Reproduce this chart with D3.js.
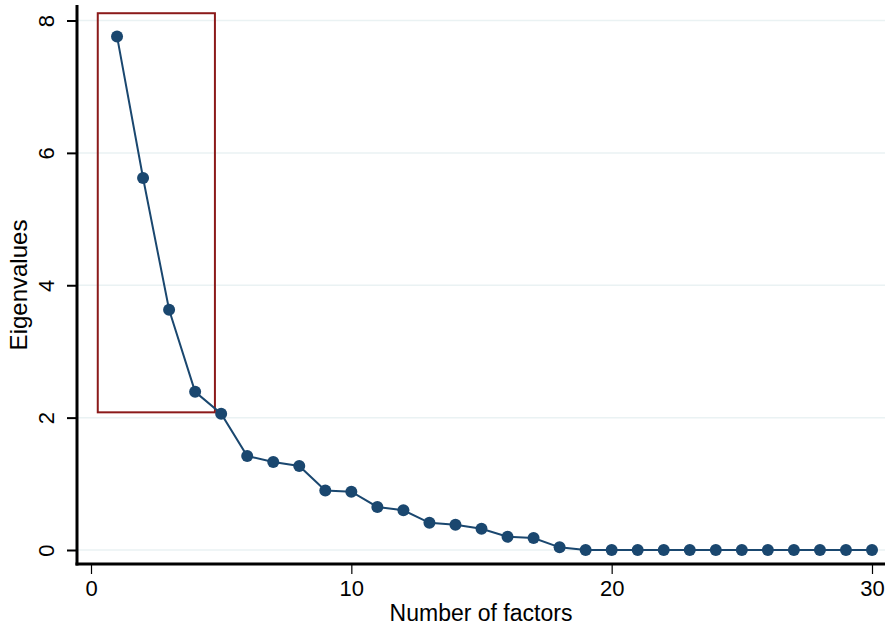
<!DOCTYPE html>
<html>
<head>
<meta charset="utf-8">
<script src="https://cdn.jsdelivr.net/npm/d3@7"></script>
<style>
  body { margin: 0; background: #fff; }
  text { font-family: "Liberation Sans", Arial, sans-serif; }
</style>
</head>
<body>
<div id="chart"></div>
<script>
const factors = d3.range(1, 31);
const eigenvalues = [7.76, 5.62, 3.63, 2.39, 2.06, 1.42, 1.33, 1.27, 0.90, 0.88,
  0.65, 0.60, 0.41, 0.38, 0.32, 0.20, 0.18, 0.04, 0.0, 0.0,
  0.0, 0.0, 0.0, 0.0, 0.0, 0.0, 0.0, 0.0, 0.0, 0.0];
const xTicks = [0, 10, 20, 30];
const yTicks = [0, 2, 4, 6, 8];
// highlight box: x from .. to, y from .. to
const boxX = [0.26, 4.76];
const boxY = [2.08, 8.11];

const W = 893, H = 630;
const svg = d3.select("#chart").append("svg")
  .attr("width", W).attr("height", H);

const x = d3.scaleLinear().domain([0, 30]).range([91, 872]);
const y = d3.scaleLinear().domain([0, 8]).range([550, 20.5]);
const axisX = 77, axisY = 564;

// gridlines
svg.append("g").selectAll("line").data(yTicks).join("line")
  .attr("x1", axisX).attr("x2", 885)
  .attr("y1", d => y(d)).attr("y2", d => y(d))
  .attr("stroke", "#eaf2f3").attr("stroke-width", 1.5);

// y axis
const yAxis = svg.append("g").attr("transform", `translate(${axisX},0)`)
  .call(d3.axisLeft(y).tickValues(yTicks).tickSize(10).tickFormat(d3.format("d")));
yAxis.select(".domain").remove();
yAxis.selectAll(".tick line").attr("stroke", "#000").attr("stroke-width", 2);
yAxis.selectAll(".tick text")
  .attr("font-size", 22).attr("fill", "#000")
  .attr("text-anchor", "middle").attr("dy", null)
  .attr("transform", "rotate(-90)")
  .attr("x", 0).attr("y", -31).attr("dominant-baseline", "central");

svg.append("line").attr("x1", axisX).attr("x2", axisX).attr("y1", 5).attr("y2", axisY + 1.5)
  .attr("stroke", "#000").attr("stroke-width", 3);

// x axis
const xAxis = svg.append("g").attr("transform", `translate(0,${axisY})`)
  .call(d3.axisBottom(x).tickValues(xTicks).tickSize(10).tickPadding(6).tickFormat(d3.format("d")));
xAxis.select(".domain").remove();
xAxis.selectAll(".tick line").attr("stroke", "#000").attr("stroke-width", 1.2);
xAxis.selectAll(".tick text").attr("font-size", 22).attr("fill", "#000");

svg.append("line").attr("x1", axisX - 1.5).attr("x2", 885).attr("y1", axisY).attr("y2", axisY)
  .attr("stroke", "#000").attr("stroke-width", 3);

// axis titles
svg.append("text").attr("x", 481).attr("y", 621).attr("text-anchor", "middle")
  .attr("font-size", 23).text("Number of factors");
svg.append("text").attr("transform", "translate(27,285) rotate(-90)")
  .attr("text-anchor", "middle").attr("font-size", 24).text("Eigenvalues");

// highlight rectangle
svg.append("rect")
  .attr("x", x(boxX[0])).attr("y", y(boxY[1]))
  .attr("width", x(boxX[1]) - x(boxX[0])).attr("height", y(boxY[0]) - y(boxY[1]))
  .attr("fill", "none").attr("stroke", "#8b1a1a").attr("stroke-width", 2);

// scree line and points
const pts = factors.map((f, i) => [f, eigenvalues[i]]);
svg.append("path").datum(pts)
  .attr("fill", "none").attr("stroke", "#1a476f").attr("stroke-width", 2)
  .attr("d", d3.line().x(d => x(d[0])).y(d => y(d[1])));
svg.append("g").selectAll("circle").data(pts).join("circle")
  .attr("cx", d => x(d[0])).attr("cy", d => y(d[1])).attr("r", 6)
  .attr("fill", "#1a476f");
</script>
</body>
</html>
